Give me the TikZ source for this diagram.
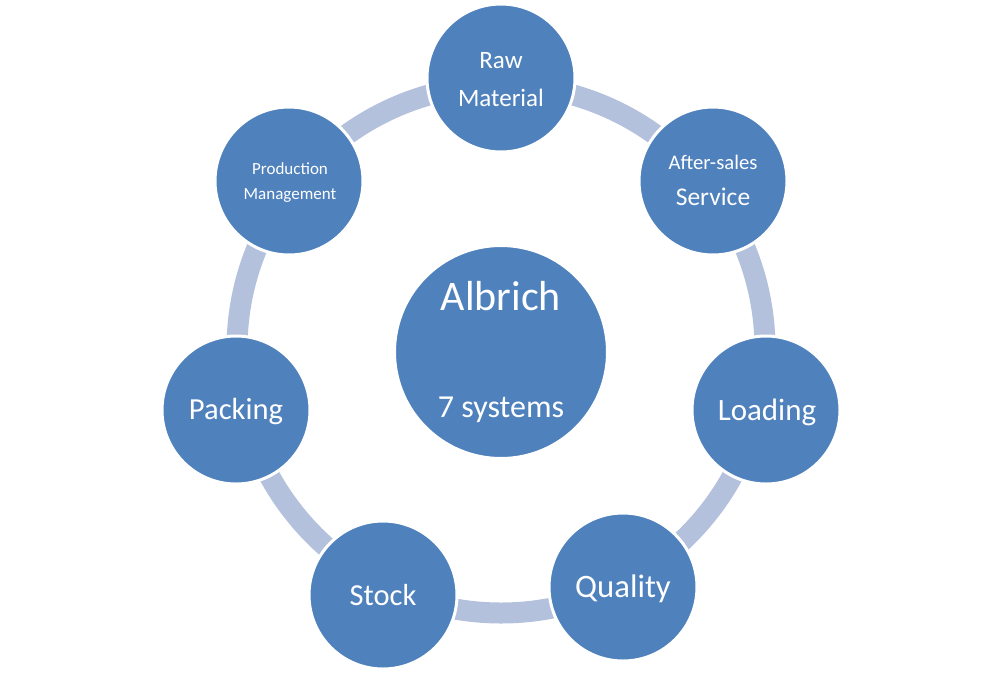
\documentclass[tikz,border=0pt]{standalone}
\usepackage{fontspec}
\setmainfont{Carlito}
\definecolor{nodeblue}{HTML}{4F81BD}
\definecolor{ringblue}{HTML}{B4C1DD}
\tikzset{
  ringline/.style={draw=ringblue, line width=21pt},
  sysnode/.style={circle, fill=nodeblue, draw=white, line width=3pt, minimum size=148pt, inner sep=0pt},
  hubnode/.style={circle, fill=nodeblue, draw=white, line width=3pt, minimum size=213pt, inner sep=0pt},
  txt/.style={anchor=base, text=white, inner sep=0pt},
}
\begin{document}
\begin{tikzpicture}[x=1pt,y=-1pt]
\useasboundingbox (0,0) rectangle (1002,673);
\coordinate (ringc) at (501,349);
\draw[ringline] (ringc) circle (264);
% circles
\node[sysnode] (raw) at (501,78) {};
\node[sysnode] (after) at (713,181) {};
\node[sysnode] (loading) at (766,410) {};
\node[sysnode] (quality) at (623,587) {};
\node[sysnode] (stock) at (383,595) {};
\node[sysnode] (packing) at (236,410) {};
\node[sysnode] (prod) at (289,181) {};
\node[hubnode] (hub) at (501,352) {};
% texts
\node[txt, font=\fontsize{25}{29}\selectfont] (t-raw1) at (501,68) {Raw};
\node[txt, font=\fontsize{25}{29}\selectfont] (t-raw2) at (501,106) {Material};
\node[txt, font=\fontsize{20.7}{24}\selectfont] (t-after1) at (713,169) {After-sales};
\node[txt, font=\fontsize{25.5}{29}\selectfont] (t-after2) at (713,205) {Service};
\node[txt, font=\fontsize{31}{36}\selectfont] (t-loading) at (767,420) {Loading};
\node[txt, font=\fontsize{32.7}{38}\selectfont] (t-quality) at (623,597) {Quality};
\node[txt, font=\fontsize{30.5}{36}\selectfont] (t-stock) at (383,605) {Stock};
\node[txt, font=\fontsize{30.6}{36}\selectfont] (t-packing) at (236,419) {Packing};
\node[txt, font=\fontsize{17}{20}\selectfont] (t-prod1) at (290,174) {Production};
\node[txt, font=\fontsize{17}{20}\selectfont] (t-prod2) at (290,199) {Management};
\node[txt, font=\fontsize{42}{50}\selectfont] (t-hub1) at (501,310) {Albrich};
\node[txt, font=\fontsize{32}{38}\selectfont] (t-hub2) at (501,417) {7 systems};
\end{tikzpicture}
\end{document}
